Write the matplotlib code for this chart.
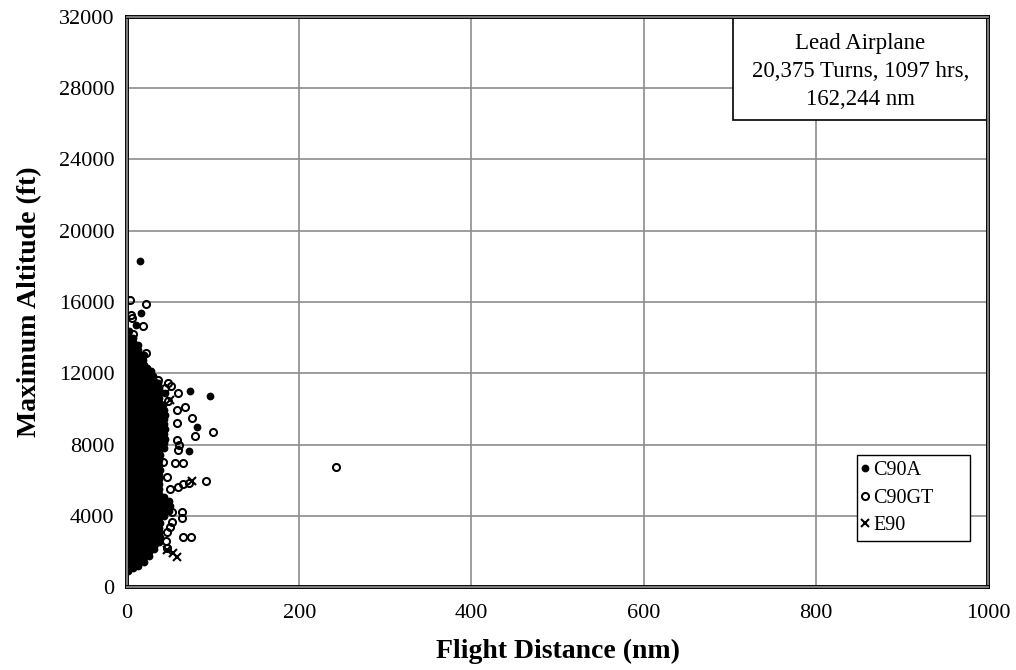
import matplotlib
matplotlib.use("Agg")
import matplotlib.pyplot as plt
import matplotlib.patheffects as pe
from matplotlib.patches import Rectangle
from matplotlib.lines import Line2D

# ---- data: (flight distance nm, maximum altitude ft) per flight ----
c90a_points = [
    # dense core of short flights
    (1.2, 910), (2.0, 1180), (0.8, 1440), (1.6, 1720), (2.3, 1990), (1.0, 2250), (1.8, 2530),
    (0.6, 2790), (1.4, 3060), (2.2, 3340), (1.1, 3600), (1.9, 3870), (0.7, 4150), (1.5, 4410),
    (2.4, 4680), (0.9, 4960), (1.7, 5220), (1.3, 5490), (2.1, 5770), (0.8, 6030), (1.6, 6300),
    (2.2, 6580), (1.0, 6840), (1.9, 7110), (0.7, 7390), (1.4, 7650), (2.3, 7920), (1.2, 8200),
    (1.8, 8460), (0.9, 8730), (1.5, 9010), (2.1, 9270), (1.1, 9540), (1.7, 9820), (0.6, 10080),
    (1.3, 10350), (2.0, 10630), (0.9, 10890), (1.6, 11160), (2.2, 11440), (1.0, 11700),
    (1.8, 11970), (0.8, 12250), (1.4, 12510), (2.1, 12780), (1.2, 13060), (1.9, 13320),
    (0.7, 13590), (1.5, 13870), (1.1, 14150), (2.0, 14380),
    (7.2, 1050), (8.0, 1310), (6.8, 1580), (7.6, 1860), (8.3, 2120), (7.0, 2390), (7.8, 2670),
    (6.6, 2930), (7.4, 3200), (8.2, 3480), (7.1, 3740), (7.9, 4010), (6.7, 4290), (7.5, 4550),
    (8.4, 4820), (6.9, 5100), (7.7, 5360), (7.3, 5630), (8.1, 5910), (6.8, 6170), (7.6, 6440),
    (8.2, 6720), (7.0, 6980), (7.9, 7250), (6.7, 7530), (7.4, 7790), (8.3, 8060), (7.2, 8340),
    (7.8, 8600), (6.9, 8870), (7.5, 9150), (8.1, 9410), (7.1, 9680), (7.7, 9960), (6.6, 10220),
    (7.3, 10490), (8.0, 10770), (6.9, 11030), (7.6, 11300), (8.2, 11580), (7.0, 11840),
    (7.8, 12110), (6.8, 12390), (7.4, 12650), (8.1, 12920), (7.2, 13200), (7.9, 13460),
    (6.7, 13730), (7.5, 14000),
    (13.2, 1180), (14.0, 1450), (12.8, 1720), (13.6, 1990), (14.3, 2260), (13.0, 2530),
    (13.8, 2800), (12.6, 3070), (13.4, 3340), (14.2, 3610), (13.1, 3880), (13.9, 4150),
    (12.7, 4420), (13.5, 4690), (14.4, 4960), (12.9, 5230), (13.7, 5500), (13.3, 5770),
    (14.1, 6040), (12.8, 6310), (13.6, 6580), (14.2, 6850), (13.0, 7120), (13.9, 7390),
    (12.7, 7660), (13.4, 7930), (14.3, 8200), (13.2, 8470), (13.8, 8740), (12.9, 9010),
    (13.5, 9280), (14.1, 9550), (13.1, 9820), (13.7, 10090), (12.6, 10360), (13.3, 10630),
    (14.0, 10900), (12.9, 11170), (13.6, 11440), (14.2, 11710), (13.0, 11980), (13.8, 12250),
    (12.8, 12520), (13.4, 12790), (14.1, 13060), (13.2, 13330), (12.5, 13580),
    (19.2, 1400), (20.0, 1660), (18.8, 1930), (19.6, 2210), (20.3, 2470), (19.0, 2740),
    (19.8, 3020), (18.6, 3280), (19.4, 3550), (20.2, 3830), (19.1, 4090), (19.9, 4360),
    (18.7, 4640), (19.5, 4900), (20.4, 5170), (18.9, 5450), (19.7, 5710), (19.3, 5980),
    (20.1, 6260), (18.8, 6520), (19.6, 6790), (20.2, 7070), (19.0, 7330), (19.9, 7600),
    (18.7, 7880), (19.4, 8140), (20.3, 8410), (19.2, 8690), (19.8, 8950), (18.9, 9220),
    (19.5, 9500), (20.1, 9760), (19.1, 10030), (19.7, 10310), (18.6, 10570), (19.3, 10840),
    (20.0, 11120), (18.9, 11380), (19.6, 11650), (20.2, 11930), (19.0, 12190), (19.8, 12460),
    (18.8, 12740), (19.4, 13000),
    (25.2, 1720), (26.0, 1990), (24.8, 2260), (25.6, 2530), (26.3, 2800), (25.0, 3070),
    (25.8, 3340), (24.6, 3610), (25.4, 3880), (26.2, 4150), (25.1, 4420), (25.9, 4690),
    (24.7, 4960), (25.5, 5230), (26.4, 5500), (24.9, 5770), (25.7, 6040), (25.3, 6310),
    (26.1, 6580), (24.8, 6850), (25.6, 7120), (26.2, 7390), (25.0, 7660), (25.9, 7930),
    (24.7, 8200), (25.4, 8470), (26.3, 8740), (25.2, 9010), (25.8, 9280), (24.9, 9550),
    (25.5, 9820), (26.1, 10090), (25.1, 10360), (25.7, 10630), (24.6, 10900), (25.3, 11170),
    (26.0, 11440), (24.9, 11710), (25.6, 11980), (23.8, 12300),
    (31.2, 2120), (32.0, 2390), (30.8, 2670), (31.6, 2930), (32.3, 3200), (31.0, 3480),
    (31.8, 3740), (30.6, 4010), (31.4, 4290), (32.2, 4550), (31.1, 4820), (31.9, 5100),
    (30.7, 5360), (31.5, 5630), (32.4, 5910), (30.9, 6170), (31.7, 6440), (31.3, 6720),
    (32.1, 6980), (30.8, 7250), (31.6, 7530), (32.2, 7790), (31.0, 8060), (31.9, 8340),
    (30.7, 8600), (31.4, 8870), (32.3, 9150), (31.2, 9410), (31.8, 9680), (30.9, 9960),
    (31.5, 10220), (32.1, 10490), (31.1, 10770), (31.7, 11030), (30.6, 11300), (31.3, 11580),
    (30.2, 11850),
    (37.2, 2530), (38.0, 2800), (36.8, 3070), (37.6, 3340), (38.3, 3610), (37.0, 3880),
    (37.8, 4150), (36.6, 4420), (37.4, 4690), (38.2, 4960), (37.1, 5230), (36.9, 5500),
    (37.7, 5770), (36.7, 6040), (37.5, 6310), (38.1, 6580), (36.8, 6850), (37.6, 7120),
    (38.2, 7390), (37.0, 7660), (37.9, 7930), (36.7, 8200), (37.4, 8470), (38.3, 8740),
    (37.2, 9010), (37.8, 9280), (36.9, 9550), (37.5, 9820), (38.1, 10090), (37.1, 10360),
    (37.7, 10630), (36.6, 10900), (37.3, 11170), (36.2, 11440),
    (43.2, 3960), (44.0, 4230), (42.8, 4500), (43.6, 4770), (42.4, 5040), (42.6, 7790),
    (43.4, 8060), (44.1, 8330), (43.0, 8600), (43.7, 8870), (42.7, 9140), (43.3, 9410),
    (44.0, 9680), (42.9, 9950), (42.1, 10220),
    (49.0, 4290), (50.2, 4550), (48.5, 4820),
    # scattered longer / higher flights
    (15, 18300), (16, 15400), (10, 14700), (28, 12130), (73, 11000), (96, 10720),
    (81, 8980), (72, 7640), (44, 10900),
]

c90gt_points = [
    (3.5, 16100), (22, 15900), (4.6, 15270), (5.8, 15120), (18.5, 14650), (7.0, 14200),
    (22, 13150), (36, 11620), (48, 11450), (51, 11290), (59, 10880), (44, 11150),
    (67, 10110), (58, 9940), (75, 9460), (58, 9200), (100, 8700), (79, 8500), (58, 8250),
    (60, 7970), (59, 7690), (56, 6980), (65, 6960), (92, 5950), (50, 5500), (59, 5610),
    (65, 5760), (72, 5860), (52, 4210), (64, 4210), (64, 3860), (52, 3650), (50, 3370),
    (46, 3090), (65, 2810), (74, 2810), (46, 2190), (48, 10450), (42, 7000), (47, 6200),
    (45, 2600), (243, 6750),
]

e90_points = [
    (76, 5950), (58, 1700), (46, 2080), (54, 1900), (50, 10500), (42, 9300),
]

series_labels = ["C90A", "C90GT", "E90"]
x_ticks = [0, 200, 400, 600, 800, 1000]
y_ticks = [0, 4000, 8000, 12000, 16000, 20000, 24000, 28000, 32000]
info_text = "Lead Airplane\n20,375 Turns, 1097 hrs,\n162,244 nm"

plt.rcParams['font.family'] = ['Liberation Serif', 'DejaVu Serif']

fig = plt.figure(figsize=(10.16, 6.70), dpi=100)
ax = fig.add_axes([127 / 1016, 83 / 670, 861 / 1016, 570 / 670])

dot_style = dict(ls='none', marker='o', ms=5.6, mfc='black', mec='black', mew=0)
ring_style = dict(ls='none', marker='o', ms=5.1, mfc='none', mec='black', mew=1.45)
cross_style = dict(ls='none', marker='x', ms=5.4, mec='black', mew=1.5)

a_x, a_y = zip(*c90a_points)
g_x, g_y = zip(*c90gt_points)
e_x, e_y = zip(*e90_points)
ax.plot(a_x, a_y, zorder=3, **dot_style)
ax.plot(g_x, g_y, zorder=4, **ring_style)
ax.plot(e_x, e_y, zorder=4, **cross_style)

ax.set_xlim(0, 1000)
ax.set_ylim(0, 32000)
ax.set_xticks(x_ticks)
ax.set_yticks(y_ticks)
ax.tick_params(axis='both', length=0, labelsize=16)
ax.tick_params(axis='x', pad=12)
ax.tick_params(axis='y', pad=9)

ax.grid(True, color='#8c8c8c', lw=1.2)
ax.set_axisbelow(True)

for sp in ax.spines.values():
    sp.set_color('#808080')
    sp.set_linewidth(1.4)
    sp.set_path_effects([pe.Stroke(linewidth=2.8, foreground='black'), pe.Normal()])
    sp.set_zorder(6)

ax.set_xlabel("Flight Distance (nm)", fontsize=20, fontweight='bold', labelpad=12)
ax.set_ylabel("Maximum Altitude (ft)", fontsize=20, fontweight='bold', labelpad=12)

# summary box in the top-right corner
box_x0, box_y0 = (733 - 127) / 861, (587 - 120) / 570
ax.add_patch(Rectangle((box_x0, box_y0), 1 - box_x0, 1 - box_y0, transform=ax.transAxes,
                       facecolor='white', edgecolor='black', lw=1.2, zorder=5))
ax.text((box_x0 + 1) / 2, (box_y0 + 1) / 2 - 0.005, info_text, transform=ax.transAxes,
        ha='center', va='center', fontsize=16.5, linespacing=1.45, zorder=6)

handles = [Line2D([], [], **dot_style), Line2D([], [], **ring_style),
           Line2D([], [], **cross_style)]
leg = ax.legend(handles, series_labels, loc='upper left',
                bbox_to_anchor=(0.848, 0.2316, 0.131, 0), mode='expand',
                fancybox=False, edgecolor='black', framealpha=1, borderaxespad=0,
                handlelength=0.2, handletextpad=0.3, borderpad=0.3, labelspacing=0.42,
                fontsize=14.5)
leg.get_frame().set_linewidth(1.0)
leg.set_zorder(7)

fig.savefig("out.png", dpi=100)
